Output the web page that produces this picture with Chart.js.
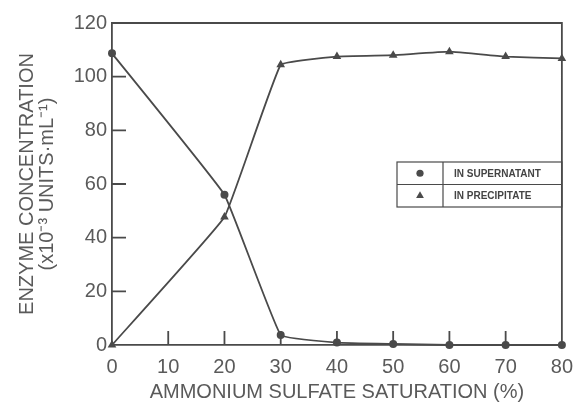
<!DOCTYPE html>
<html>
<head>
<meta charset="utf-8">
<script src="https://cdn.jsdelivr.net/npm/chart.js@4.4.0/dist/chart.umd.min.js"></script>
<style>
html, body { margin: 0; padding: 0; background: #fff; }
#wrap { width: 583px; height: 403px; }
</style>
</head>
<body>
<div id="wrap"><canvas id="chart"></canvas></div>
<script>
// saturacao de sulfato de amonio (%)
const saturation = [0, 20, 30, 40, 50, 60, 70, 80];
const supernatant = [108.7, 56, 3.7, 0.9, 0.4, 0, 0, 0];
const precipitate = [0, 47.7, 104.4, 107.5, 108, 109.3, 107.5, 106.8];
const xTicks = [0, 10, 20, 30, 40, 50, 60, 70, 80];
const yTicks = [0, 20, 40, 60, 80, 100, 120];

const ink = '#4a4a4a';
const textInk = '#5a5a5a';

const pts = (ys) => saturation.map((x, i) => ({ x: x, y: ys[i] }));

// marcas de escala para dentro + moldura de cima e da direita + legenda em caixa
const frame = {
    id: 'frame',
    afterDraw(chart) {
        const { ctx, chartArea: a, scales } = chart;
        ctx.save();
        ctx.strokeStyle = ink;
        ctx.lineWidth = 1.8;
        ctx.beginPath();
        ctx.moveTo(a.left, a.top);
        ctx.lineTo(a.right, a.top);
        ctx.lineTo(a.right, a.bottom);
        yTicks.slice(1, -1).forEach(v => {
            const py = scales.y.getPixelForValue(v);
            ctx.moveTo(a.left, py);
            ctx.lineTo(a.left + 14, py);
        });
        xTicks.slice(1, -1).forEach(v => {
            const px = scales.x.getPixelForValue(v);
            ctx.moveTo(px, a.bottom);
            ctx.lineTo(px, a.bottom - 14);
        });
        ctx.stroke();

        // legenda
        const lx = 397, ly = 162, lw = a.right - 397, rh = 22.5, cw = 46;
        ctx.lineWidth = 1.2;
        ctx.strokeRect(lx, ly, lw, rh * 2);
        ctx.beginPath();
        ctx.moveTo(lx, ly + rh);
        ctx.lineTo(lx + lw, ly + rh);
        ctx.moveTo(lx + cw, ly);
        ctx.lineTo(lx + cw, ly + rh * 2);
        ctx.stroke();
        ctx.font = 'bold 10px "Liberation Sans"';
        ctx.textBaseline = 'middle';
        chart.data.datasets.forEach((ds, i) => {
            const cy = ly + rh * i + rh / 2;
            ctx.fillStyle = ink;
            Chart.helpers.drawPoint(ctx, { pointStyle: ds.pointStyle, radius: ds.pointRadius * 0.9, borderWidth: 0 }, lx + cw / 2, cy);
            ctx.fillStyle = '#444';
            ctx.fillText(ds.label, lx + cw + 11, cy + 0.5);
        });
        ctx.restore();
    }
};

const ctx = document.getElementById('chart');
const chart = new Chart(ctx, {
    type: 'line',
    data: {
        datasets: [{
            label: 'IN SUPERNATANT',
            data: pts(supernatant),
            borderColor: ink,
            backgroundColor: ink,
            borderWidth: 1.8,
            pointStyle: 'circle',
            pointRadius: 4,
            pointBorderWidth: 0,
            tension: 0.08,
            clip: false
        },
        {
            label: 'IN PRECIPITATE',
            data: pts(precipitate),
            borderColor: ink,
            backgroundColor: ink,
            borderWidth: 1.8,
            pointStyle: 'triangle',
            pointRadius: 5,
            pointBorderWidth: 0,
            tension: 0.08,
            clip: false
        }]
    },
    options: {
        responsive: true,
        maintainAspectRatio: false,
        animation: false,
        layout: { padding: { top: 23, right: 13, left: 0, bottom: 0 } },
        plugins: {
            legend: { display: false },
            tooltip: { enabled: false }
        },
        scales: {
            x: {
                type: 'linear',
                min: 0,
                max: 80,
                afterBuildTicks: (s) => { s.ticks = xTicks.map(v => ({ value: v })); },
                afterFit: (s) => { s.height = 58; },
                grid: { display: false, drawTicks: false },
                border: { display: true, color: ink, width: 1.8 },
                ticks: {
                    color: textInk,
                    padding: 10,
                    maxRotation: 0,
                    font: { family: '"Liberation Sans"', size: 20 }
                },
                title: {
                    display: true,
                    text: 'AMMONIUM SULFATE SATURATION (%)',
                    color: textInk,
                    padding: { top: 0, bottom: 0 },
                    font: { family: '"Liberation Sans"', size: 20, lineHeight: 1.05 }
                }
            },
            y: {
                min: 0,
                max: 120,
                afterBuildTicks: (s) => { s.ticks = yTicks.map(v => ({ value: v })); },
                afterFit: (s) => { s.width = 112; },
                grid: { display: false, drawTicks: false },
                border: { display: true, color: ink, width: 1.8 },
                ticks: {
                    color: textInk,
                    padding: 5,
                    font: { family: '"Liberation Sans"', size: 20 }
                },
                title: {
                    display: true,
                    text: ['ENZYME CONCENTRATION', '(x10⁻³ UNITS·mL⁻¹)'],
                    color: textInk,
                    padding: { top: 17, bottom: 0 },
                    font: { family: '"Liberation Sans"', size: 20, lineHeight: 1.0 }
                }
            }
        }
    },
    plugins: [frame]
});
</script>
</body>
</html>
